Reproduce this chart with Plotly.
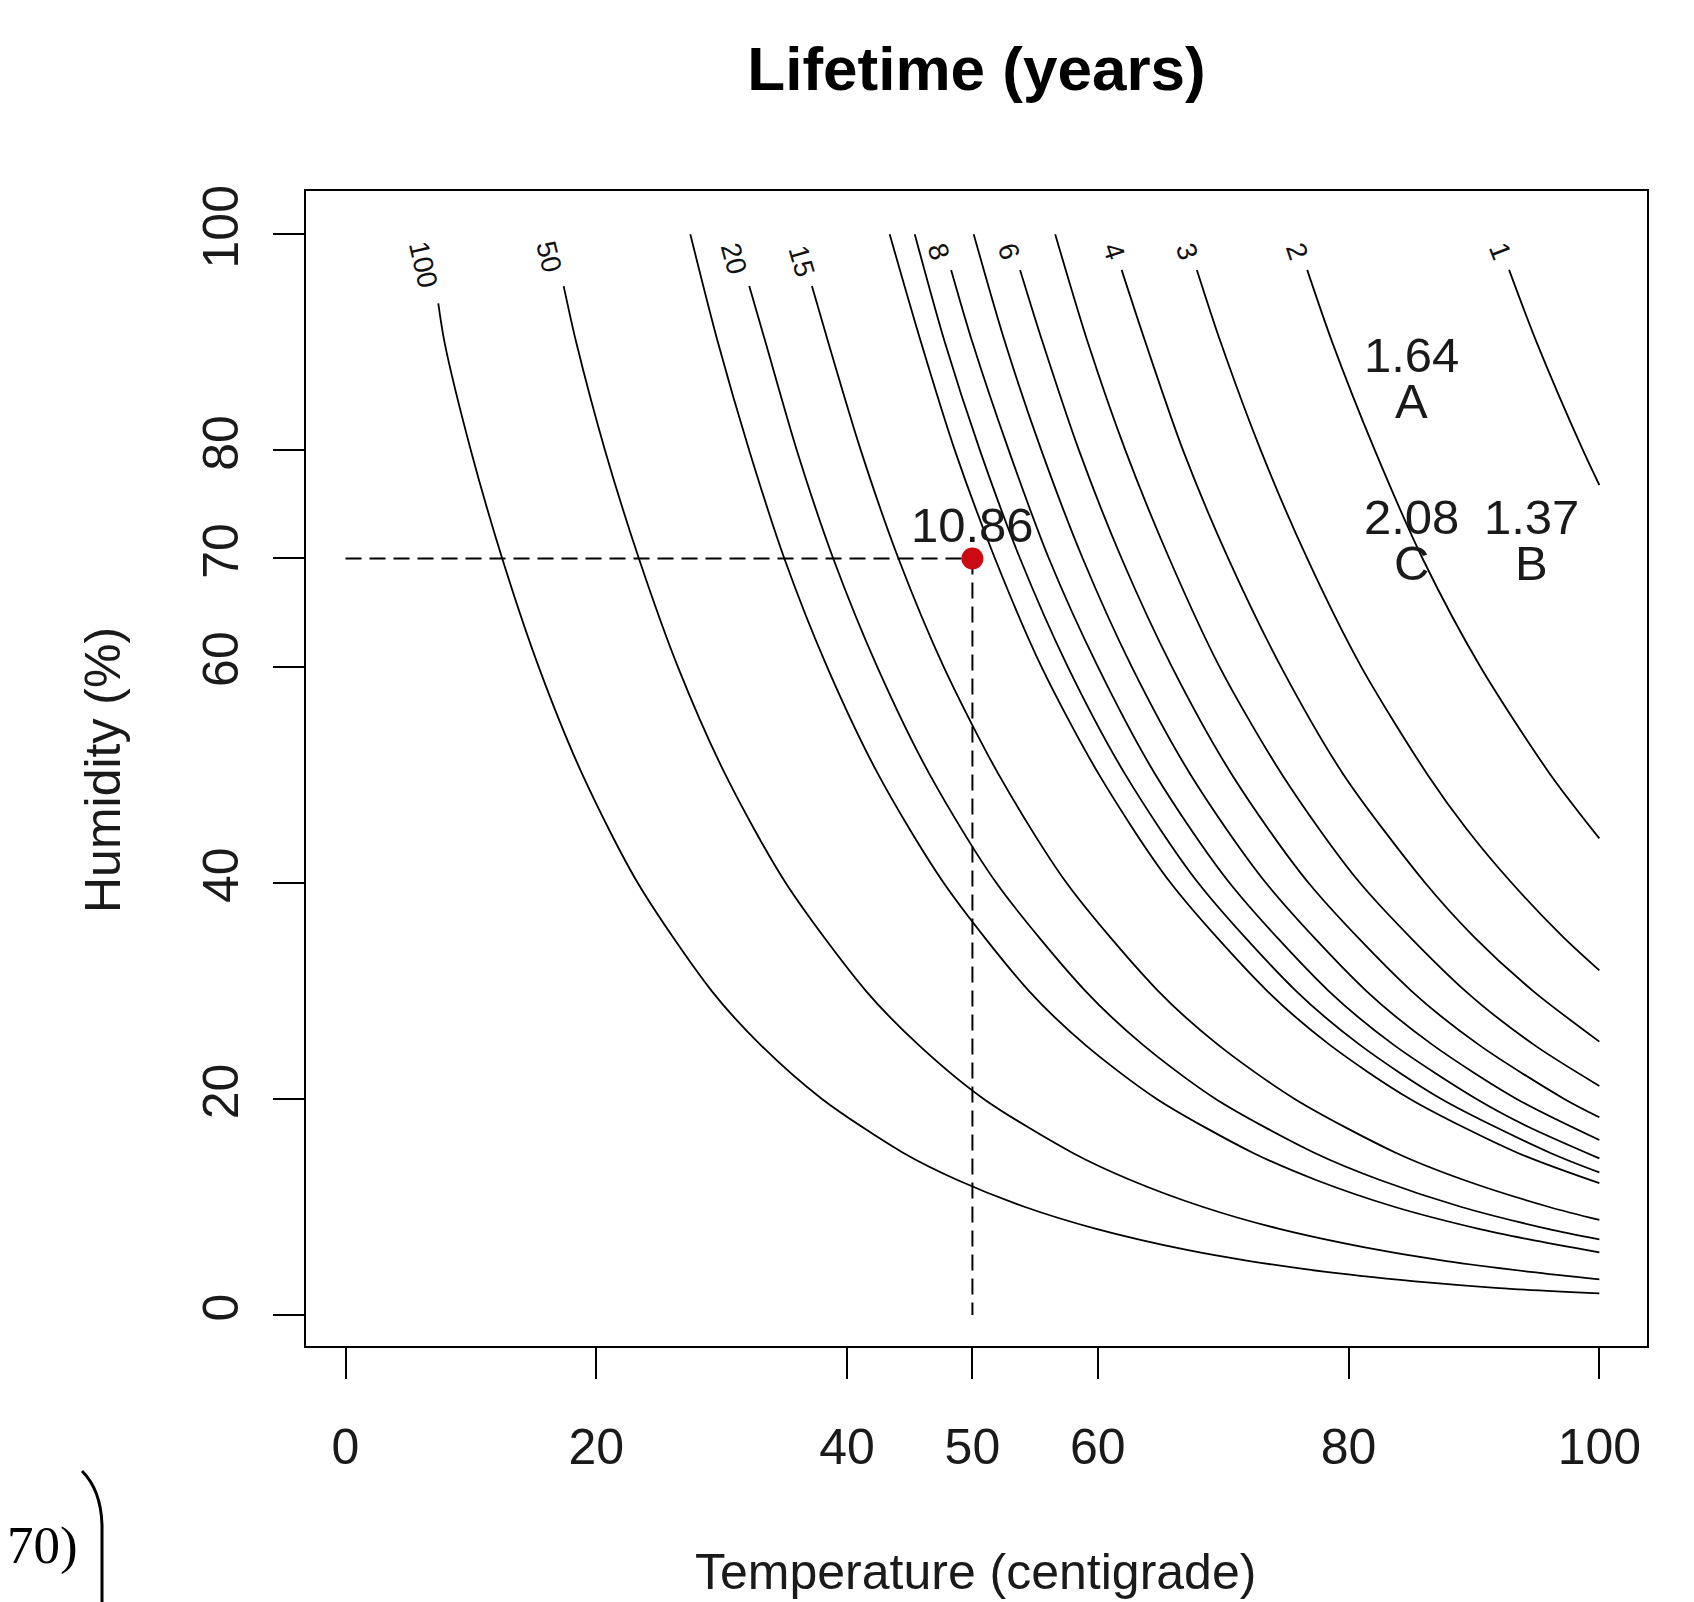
import plotly.graph_objects as go

# ---------------- data ----------------
levels = [100, 50, 25, 20, 15, 10, 9, 8, 7, 6, 5, 4, 3, 2, 1]

rh_100 = [93.6, 90, 80, 70, 60, 50, 40, 30, 25, 20, 15, 12.5, 10, 8, 6, 5, 4, 3, 2.5, 2.0]
t_100 = [7.4, 7.9, 10.0, 12.5, 15.4, 18.9, 23.3, 29.2, 33.1, 38.0, 44.5, 48.8, 54.2, 59.8, 67.2, 72.1, 78.2, 86.5, 92.0, 100]

rh_50 = [95.2, 90, 80, 70, 60, 50, 40, 30, 25, 20, 15, 12.5, 10, 8, 6, 5, 4, 3.3]
t_50 = [17.4, 18.4, 20.7, 23.4, 26.5, 30.3, 35.1, 41.5, 45.7, 50.9, 58.0, 62.6, 68.4, 74.4, 82.5, 87.8, 94.5, 100]

rh_25 = [100, 90, 80, 70, 60, 50, 40, 30, 25, 20, 15, 12.5, 10, 8, 7, 5.8]
t_25 = [27.5, 29.7, 32.2, 35.0, 38.4, 42.5, 47.7, 54.5, 59.0, 64.7, 72.4, 77.4, 83.7, 90.3, 94.4, 100]

rh_20 = [95.2, 90, 80, 70, 60, 50, 40, 30, 25, 20, 15, 12.5, 10, 8, 7.0]
t_20 = [32.2, 33.5, 36.0, 38.9, 42.4, 46.6, 51.9, 59.0, 63.6, 69.4, 77.3, 82.5, 89.0, 95.8, 100]

rh_15 = [95.2, 90, 80, 70, 60, 50, 40, 30, 25, 20, 15, 12.5, 10, 8.8]
t_15 = [37.2, 38.5, 41.1, 44.1, 47.7, 52.1, 57.5, 64.8, 69.6, 75.7, 83.8, 89.2, 96.0, 100]

rh_10 = [100, 90, 80, 70, 60, 50, 40, 30, 25, 20, 15, 12.2]
t_10 = [43.4, 45.9, 48.6, 51.8, 55.5, 60.1, 65.8, 73.5, 78.5, 84.9, 93.5, 100]

rh_9 = [100, 90, 80, 70, 60, 50, 40, 30, 25, 20, 15, 13.2]
t_9 = [45.4, 47.8, 50.6, 53.8, 57.6, 62.2, 68.0, 75.8, 80.9, 87.4, 96.1, 100]

rh_8 = [96.7, 90, 80, 70, 60, 50, 40, 30, 25, 20, 17.5, 14.5]
t_8 = [48.3, 50.0, 52.9, 56.1, 60.0, 64.6, 70.5, 78.4, 83.6, 90.2, 94.2, 100]

rh_7 = [100, 90, 80, 70, 60, 50, 40, 30, 25, 20, 16.2]
t_7 = [50.1, 52.6, 55.5, 58.8, 62.7, 67.4, 73.4, 81.4, 86.7, 93.4, 100]

rh_6 = [96.7, 90, 80, 70, 60, 50, 40, 30, 25, 20, 18.3]
t_6 = [53.8, 55.6, 58.5, 61.9, 65.9, 70.7, 76.8, 85.0, 90.4, 97.2, 100]

rh_5 = [100, 90, 80, 70, 60, 50, 40, 30, 25, 21.2]
t_5 = [56.6, 59.2, 62.2, 65.7, 69.7, 74.7, 80.9, 89.3, 94.8, 100]

rh_4 = [96.7, 90, 80, 70, 60, 50, 40, 35, 30, 25.3]
t_4 = [61.9, 63.8, 66.8, 70.4, 74.6, 79.6, 86.1, 90.0, 94.7, 100]

rh_3 = [96.7, 90, 80, 70, 60, 50, 45, 40, 35, 31.9]
t_3 = [67.9, 69.8, 73.0, 76.7, 81.0, 86.3, 89.4, 93.0, 97.1, 100]

rh_2 = [96.7, 90, 80, 70, 60, 50, 44.1]
t_2 = [76.7, 78.7, 82.1, 85.9, 90.5, 96.1, 100]

rh_1 = [96.7, 90, 80, 76.8]
t_1 = [92.8, 95.0, 98.7, 100]

contour_t = {100: t_100, 50: t_50, 25: t_25, 20: t_20, 15: t_15, 10: t_10, 9: t_9,
             8: t_8, 7: t_7, 6: t_6, 5: t_5, 4: t_4, 3: t_3, 2: t_2, 1: t_1}
contour_rh = {100: rh_100, 50: rh_50, 25: rh_25, 20: rh_20, 15: rh_15, 10: rh_10, 9: rh_9,
              8: rh_8, 7: rh_7, 6: rh_6, 5: rh_5, 4: rh_4, 3: rh_3, 2: rh_2, 1: rh_1}

# contour labels drawn at the top of the lines
label_text = ["100", "50", "20", "15", "8", "6", "4", "3", "2", "1"]
label_t = [6.2, 16.2, 31.0, 36.4, 47.3, 52.9, 61.3, 67.1, 75.9, 92.1]
label_rh = [97.2, 97.9, 97.8, 97.5, 98.4, 98.4, 98.4, 98.4, 98.4, 98.4]
label_angle = [77, 76, 75, 74, 73, 73, 72, 72, 71, 69]

# reference condition
ref_t = 50
ref_rh = 70
ref_value = "10.86"

# comparison conditions
cmp_names = ["A", "B", "C"]
cmp_t = [85, 94.6, 85]
cmp_rh = [85, 70, 70]
cmp_values = ["1.64", "1.37", "2.08"]

x_ticks = [0, 20, 40, 50, 60, 80, 100]
y_ticks = [0, 20, 40, 60, 70, 80, 100]

# ---------------- figure ----------------
FONT = "Liberation Sans, Arial, sans-serif"
BODY = 8                       # default page margin of the html body
PAGE_W, PAGE_H = 1694, 1602
W, H = PAGE_W - BODY, PAGE_H - BODY
BOX_L, BOX_R, BOX_T, BOX_B = 306, 1647, 191, 1346   # plot box in page pixels
L_M, T_M = BOX_L - BODY, BOX_T - BODY
R_M, B_M = W - (BOX_R - BODY), H - (BOX_B - BODY)
PW, PH = BOX_R - BOX_L, BOX_B - BOX_T


def px_to_paper_x(px):
    return (px - BOX_L) / PW


def px_to_paper_y(py):
    return (BOX_B - py) / PH


fig = go.Figure()

for lv in levels:
    fig.add_trace(go.Scatter(
        x=contour_t[lv], y=contour_rh[lv], mode="lines",
        line=dict(color="black", width=1.8, shape="spline", smoothing=0.8),
        hoverinfo="skip", showlegend=False))

# dashed guide lines to the reference point
fig.add_trace(go.Scatter(x=[x_ticks[0], ref_t], y=[ref_rh, ref_rh], mode="lines",
                         line=dict(color="black", width=2, dash="16px,8px"),
                         showlegend=False, hoverinfo="skip"))
fig.add_trace(go.Scatter(x=[ref_t, ref_t], y=[ref_rh, y_ticks[0]], mode="lines",
                         line=dict(color="black", width=2, dash="16px,8px"),
                         showlegend=False, hoverinfo="skip"))
fig.add_trace(go.Scatter(x=[ref_t], y=[ref_rh], mode="markers",
                         marker=dict(color="#CC0A14", size=22, line=dict(width=0)),
                         showlegend=False, hoverinfo="skip"))

TXT = dict(family=FONT, size=49, color="#1a1a1a")
annotations = []
for txt, t, rh, ang in zip(label_text, label_t, label_rh, label_angle):
    annotations.append(dict(x=t, y=rh, xref="x", yref="y", text=txt, showarrow=False,
                            xanchor="center", yanchor="middle", textangle=ang,
                            font=dict(family=FONT, size=28, color="#111111")))

annotations.append(dict(x=ref_t, y=ref_rh, xref="x", yref="y", text=ref_value, showarrow=False,
                        xanchor="center", yanchor="middle", yshift=33, font=TXT))
for name, t, rh, val in zip(cmp_names, cmp_t, cmp_rh, cmp_values):
    annotations.append(dict(x=t, y=rh, xref="x", yref="y", text=name, showarrow=False,
                            xanchor="center", yanchor="middle", yshift=-5, font=TXT))
    annotations.append(dict(x=t, y=rh, xref="x", yref="y", text=val, showarrow=False,
                            xanchor="center", yanchor="middle", yshift=41, font=TXT))

# axis titles
annotations.append(dict(x=px_to_paper_x(975), y=px_to_paper_y(1572), xref="paper", yref="paper",
                        text="Temperature (centigrade)", showarrow=False,
                        xanchor="center", yanchor="middle",
                        font=dict(family=FONT, size=50, color="#1a1a1a")))
annotations.append(dict(x=px_to_paper_x(103), y=px_to_paper_y(770), xref="paper", yref="paper",
                        text="Humidity (%)", showarrow=False, textangle=-90,
                        xanchor="center", yanchor="middle",
                        font=dict(family=FONT, size=50, color="#1a1a1a")))

# fragment of a neighbouring formula at bottom-left
annotations.append(dict(x=px_to_paper_x(42), y=px_to_paper_y(1545), xref="paper", yref="paper",
                        text="70)", showarrow=False, xanchor="center", yanchor="middle",
                        font=dict(family="Liberation Serif, Times New Roman, serif", size=53,
                                  color="black")))

bx0, bx1 = px_to_paper_x(82), px_to_paper_x(102)
by0, byc, by1, by2 = px_to_paper_y(1471), px_to_paper_y(1490), px_to_paper_y(1525), px_to_paper_y(1602)
bcx = px_to_paper_x(101)
bracket = dict(type="path", xref="paper", yref="paper",
               path=f"M {bx0},{by0} Q {bcx},{byc} {bx1},{by1} L {bx1},{by2}",
               line=dict(color="black", width=3))

fig.update_layout(
    width=W, height=H,
    margin=dict(l=L_M, r=R_M, t=T_M, b=B_M, pad=0),
    paper_bgcolor="white", plot_bgcolor="white",
    title=dict(text="<b>Lifetime (years)</b>", x=0.5, xref="paper", xanchor="center",
               y=1 - (68 - BODY) / H, yref="container", yanchor="middle",
               font=dict(family=FONT, size=62, color="black")),
    annotations=annotations,
    shapes=[bracket],
    showlegend=False,
)

axis_common = dict(showgrid=False, zeroline=False, showline=True, mirror=True,
                   linecolor="black", linewidth=2, ticks="outside", ticklen=31,
                   tickwidth=2, tickcolor="black",
                   tickfont=dict(family=FONT, size=50, color="#1a1a1a"))
fig.update_xaxes(range=[-3.15, 103.8], tickvals=x_ticks, ticktext=[str(v) for v in x_ticks],
                 ticklabelstandoff=25, **axis_common)
fig.update_yaxes(range=[-2.86, 104.0], tickvals=y_ticks, ticktext=[str(v) for v in y_ticks],
                 tickangle=-90, ticklabelstandoff=15, **axis_common)

fig.write_html("out.html")
